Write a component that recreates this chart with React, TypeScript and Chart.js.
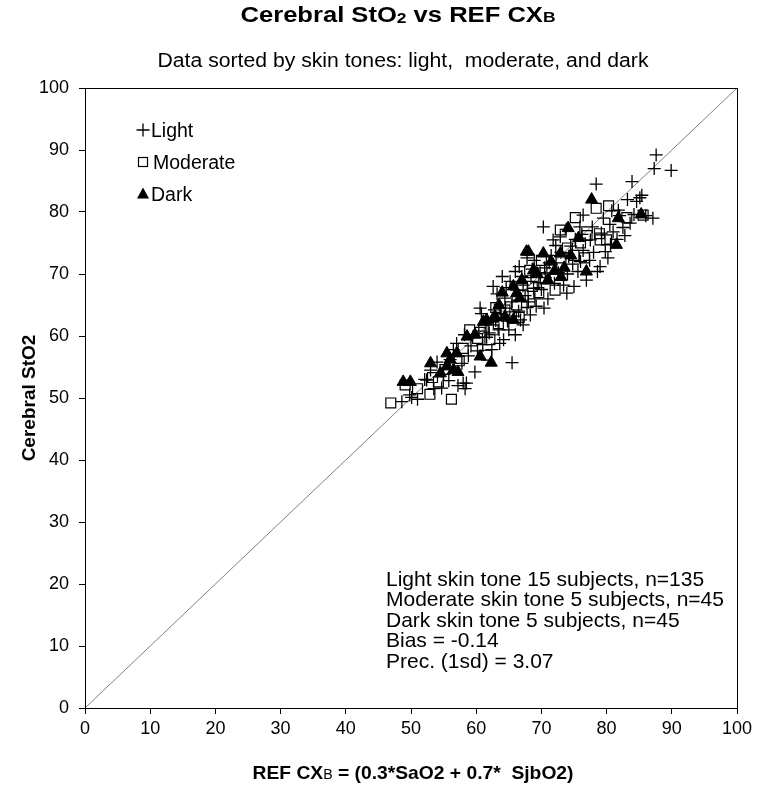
import React, { useEffect, useRef } from "react";
import { Chart, registerables } from "chart.js";

Chart.register(...registerables);

const FONT = '"Liberation Sans", Arial, sans-serif';

const lightPoints: number[][] = [
  [48.6, 49.4], [49.8, 50.5], [50.1, 50.1], [51.0, 49.8], [52.4, 52.9], [52.1, 53.0], [53.5, 51.5], [54.7, 51.6],
  [55.8, 52.8], [57.2, 52.0], [58.3, 51.5], [58.0, 52.4], [58.5, 52.4], [59.8, 54.2], [57.0, 58.8], [55.0, 53.8],
  [54.0, 55.8], [56.5, 57.8], [57.8, 55.6], [58.8, 56.8], [56.0, 56.2], [59.2, 58.4], [60.2, 57.6], [58.2, 60.2],
  [53.0, 54.5],
  [60.6, 64.5], [60.8, 63.6], [62.6, 68.0], [64.2, 59.4], [63.5, 61.0], [65.0, 61.0], [67.2, 61.8], [68.3, 63.4],
  [70.4, 64.5], [68.0, 65.5], [64.4, 66.1], [66.0, 70.4], [68.8, 67.7], [65.5, 55.7], [61.0, 58.6], [62.0, 60.5],
  [63.0, 62.5], [64.5, 64.5], [65.5, 65.5], [66.5, 64.0], [67.5, 66.5], [69.0, 66.0], [70.0, 67.5], [61.5, 61.8],
  [62.8, 64.2], [63.8, 63.6], [64.8, 62.4], [65.8, 63.2], [66.8, 62.6], [67.8, 64.6], [69.2, 64.8], [69.6, 68.6],
  [68.4, 69.4], [67.2, 68.2], [66.2, 67.4], [65.2, 68.8], [64.0, 69.6], [66.6, 71.2], [67.8, 72.6], [68.9, 72.2],
  [63.2, 66.8], [60.4, 60.8], [61.6, 59.8], [62.4, 57.8], [63.6, 58.8], [66.0, 60.2], [64.6, 67.8], [69.8, 70.2],
  [68.6, 70.8], [67.0, 69.6],
  [71.0, 66.0], [72.0, 68.5], [73.9, 66.9], [76.9, 69.0], [79.0, 71.2], [75.0, 68.0], [74.0, 70.0], [70.3, 77.6],
  [71.8, 75.5], [72.9, 76.0], [75.9, 77.6], [76.4, 79.5], [79.5, 79.0], [81.0, 76.8], [77.5, 75.5], [81.8, 80.3],
  [84.6, 81.7], [85.4, 82.7], [87.1, 79.0], [83.9, 84.9], [78.4, 84.5], [87.6, 89.2], [87.3, 87.0], [89.9, 86.7],
  [85.1, 82.3], [82.5, 77.5], [80.5, 78.0], [78.0, 73.5], [76.0, 72.0], [74.5, 74.5], [73.0, 73.5], [71.5, 73.0],
  [70.5, 71.0], [72.6, 70.2], [73.4, 68.2], [74.8, 71.6], [75.6, 70.4], [76.4, 73.8], [77.4, 72.2], [78.6, 70.4],
  [79.8, 73.6], [80.6, 74.8], [81.6, 75.6], [82.8, 76.2], [83.6, 78.2], [84.2, 79.6], [86.0, 79.4], [80.2, 72.6],
  [77.8, 77.6], [76.2, 76.4], [75.2, 75.6], [73.8, 77.2], [72.2, 74.6], [71.2, 71.8], [70.6, 69.4], [74.2, 72.8],
  [79.2, 76.6], [82.0, 79.4], [83.2, 82.0], [80.8, 80.2],
];

const moderatePoints: number[][] = [
  [46.9, 49.2], [49.1, 52.1], [52.9, 50.6], [53.3, 53.3], [56.2, 49.8], [51.0, 51.5], [54.2, 52.6], [55.2, 54.6],
  [57.4, 56.0], [58.0, 58.0], [61.6, 56.9], [59.0, 61.0], [60.2, 59.6], [62.1, 59.4], [62.6, 61.0], [60.6, 60.6],
  [63.4, 62.0], [65.4, 63.1], [64.4, 64.2], [63.0, 64.6], [66.2, 65.0], [66.6, 63.0], [67.2, 66.6], [68.6, 68.0],
  [69.6, 67.0], [70.6, 69.2], [72.1, 67.4], [71.6, 71.0], [70.0, 72.2], [68.2, 70.6], [73.0, 72.6], [74.0, 74.2],
  [75.0, 73.0], [76.0, 75.0], [76.6, 72.6], [77.0, 76.2], [72.9, 77.1], [75.2, 79.1], [78.9, 76.5], [80.0, 75.5],
  [79.0, 75.5], [78.4, 80.6], [80.3, 81.0], [83.1, 79.1], [85.6, 79.5],
];

const darkPoints: number[][] = [
  [48.8, 52.6], [49.9, 52.6], [53.0, 55.6], [54.5, 54.0], [55.5, 55.1], [56.5, 54.5], [57.2, 54.2], [55.5, 57.2],
  [57.0, 57.2], [56.0, 56.2], [58.6, 59.9], [59.8, 60.2], [60.6, 56.7], [62.3, 55.7], [61.1, 62.3], [62.6, 62.8],
  [61.6, 62.6], [62.9, 63.1], [64.4, 63.1], [65.7, 62.6], [63.5, 65.0], [64.0, 67.0], [65.7, 68.0], [66.2, 66.9],
  [66.7, 66.1], [67.0, 69.0], [67.7, 73.6], [68.8, 70.6], [69.3, 70.1], [68.0, 73.6], [70.3, 73.3], [71.0, 69.0],
  [72.0, 70.5], [73.0, 69.5], [73.5, 71.0], [71.5, 72.0], [72.9, 73.3], [74.5, 73.0], [74.1, 77.4], [75.7, 75.8],
  [76.9, 70.4], [81.5, 74.7], [85.3, 79.6], [77.7, 82.0], [81.8, 79.0],
];

const identityLine = [0, 100];
const axisMin = 0;
const axisMax = 100;
const axisStep = 10;

const legendLabels = ["Light", "Moderate", "Dark"];
const statsLines = [
  "Light skin tone 15 subjects, n=135",
  "Moderate skin tone 5 subjects, n=45",
  "Dark skin tone 5 subjects, n=45",
  "Bias = -0.14",
  "Prec. (1sd) = 3.07",
];

type Part = { text: string; font: string; dy?: number };

// draws a run of text pieces, centered on x, optionally squeezed/stretched to a target width
function drawParts(ctx: CanvasRenderingContext2D, parts: Part[], x: number, y: number, target?: number) {
  let total = 0;
  for (const p of parts) {
    ctx.font = p.font;
    total += ctx.measureText(p.text).width;
  }
  const k = target ? target / total : 1;
  ctx.save();
  ctx.translate(x - (total * k) / 2, y);
  ctx.scale(k, 1);
  ctx.textAlign = "left";
  let cx = 0;
  for (const p of parts) {
    ctx.font = p.font;
    ctx.fillText(p.text, cx, p.dy || 0);
    cx += ctx.measureText(p.text).width;
  }
  ctx.restore();
}

function drawCross(ctx: CanvasRenderingContext2D, x: number, y: number, r: number) {
  ctx.beginPath();
  ctx.moveTo(x - r, y);
  ctx.lineTo(x + r, y);
  ctx.moveTo(x, y - r);
  ctx.lineTo(x, y + r);
  ctx.stroke();
}

const textPlugin = {
  id: "customText",
  afterDraw(chart: any) {
    const ctx: CanvasRenderingContext2D = chart.ctx;
    const a = chart.chartArea;
    ctx.save();
    // frame
    ctx.strokeStyle = "#000";
    ctx.lineWidth = 1;
    ctx.strokeRect(Math.round(a.left) + 0.5, Math.round(a.top) + 0.5, Math.round(a.right - a.left), Math.round(a.bottom - a.top));

    ctx.fillStyle = "#000";
    ctx.textBaseline = "alphabetic";
    // title
    drawParts(
      ctx,
      [
        { text: "Cerebral StO", font: `bold 22px ${FONT}` },
        { text: "2", font: `bold 15px ${FONT}`, dy: 1 },
        { text: " vs REF CX", font: `bold 22px ${FONT}` },
        { text: "B", font: `bold 15px ${FONT}` },
      ],
      398,
      22,
      315
    );
    // subtitle
    drawParts(ctx, [{ text: "Data sorted by skin tones: light,  moderate, and dark", font: `20px ${FONT}` }], 403, 67, 491);

    // x axis title
    drawParts(
      ctx,
      [
        { text: "REF CX", font: `bold 19px ${FONT}` },
        { text: "B", font: `14px ${FONT}` },
        { text: " = (0.3*SaO2 + 0.7*  SjbO2)", font: `bold 19px ${FONT}` },
      ],
      413,
      779,
      321
    );

    // y axis title
    ctx.save();
    ctx.translate(30, (a.top + a.bottom) / 2);
    ctx.rotate(-Math.PI / 2);
    ctx.textBaseline = "middle";
    drawParts(ctx, [{ text: "Cerebral StO2", font: `bold 19px ${FONT}` }], 0, 0);
    ctx.restore();

    // legend
    ctx.strokeStyle = "#000";
    ctx.lineWidth = 1.3;
    const ly = [130, 162, 194];
    drawCross(ctx, 143, ly[0], 6.5);
    ctx.lineWidth = 1.2;
    ctx.strokeRect(138.5, ly[1] - 4.5, 9, 9);
    ctx.beginPath();
    ctx.moveTo(143, ly[2] - 6.5);
    ctx.lineTo(149, ly[2] + 4.5);
    ctx.lineTo(137, ly[2] + 4.5);
    ctx.closePath();
    ctx.fill();
    ctx.font = `19.5px ${FONT}`;
    ctx.textAlign = "left";
    ctx.fillText(legendLabels[0], 151, ly[0] + 7);
    ctx.fillText(legendLabels[1], 153, ly[1] + 7);
    ctx.fillText(legendLabels[2], 151, ly[2] + 7);

    // stats text
    ctx.font = `21px ${FONT}`;
    statsLines.forEach((s, i) => {
      ctx.fillText(s, 386, 585.5 + i * 20.5);
    });
    ctx.restore();
  },
};

export default function App() {
  const ref = useRef<HTMLCanvasElement | null>(null);
  useEffect(() => {
    if (!ref.current) return;
    const toXY = (arr: number[][]) => arr.map(([x, y]) => ({ x, y }));
    const chart = new Chart(ref.current, {
      type: "scatter",
      data: {
        datasets: [
          {
            type: "scatter",
            label: "Dark",
            data: toXY(darkPoints),
            pointStyle: "triangle",
            pointRadius: 7,
            pointBackgroundColor: "#000",
            pointBorderColor: "#000",
            pointBorderWidth: 1,
            order: 1,
          } as any,
          {
            type: "scatter",
            label: "Moderate",
            data: toXY(moderatePoints),
            pointStyle: "rect",
            pointRadius: 7,
            pointBackgroundColor: "rgba(255,255,255,0)",
            pointBorderColor: "#000",
            pointBorderWidth: 1.2,
            order: 2,
          },
          {
            type: "scatter",
            label: "Light",
            data: toXY(lightPoints),
            pointStyle: "cross",
            pointRadius: 6.5,
            pointBorderColor: "#000",
            pointBorderWidth: 1.3,
            order: 3,
          },
          {
            type: "line",
            label: "identity",
            data: identityLine.map((v) => ({ x: v, y: v })),
            borderColor: "#808080",
            borderWidth: 1,
            pointRadius: 0,
            fill: false,
            order: 10,
          },
        ],
      },
      options: {
        responsive: false,
        animation: false,
        devicePixelRatio: 1,
        layout: { padding: { top: 88, right: 37, bottom: 0, left: 0 } },
        plugins: { legend: { display: false }, tooltip: { enabled: false }, title: { display: false } },
        scales: {
          x: {
            type: "linear",
            min: axisMin,
            max: axisMax,
            ticks: { stepSize: axisStep, color: "#000", font: { family: FONT, size: 18 }, padding: 4, maxRotation: 0 },
            grid: { display: true, drawOnChartArea: false, drawTicks: true, tickLength: 6, color: "#000" },
            border: { display: true, color: "#000", width: 1 },
            afterFit: (s: any) => {
              s.height = 80;
            },
          },
          y: {
            type: "linear",
            min: axisMin,
            max: axisMax,
            ticks: { stepSize: axisStep, color: "#000", font: { family: FONT, size: 18 }, padding: 10 },
            grid: { display: true, drawOnChartArea: false, drawTicks: true, tickLength: 6, color: "#000" },
            border: { display: true, color: "#000", width: 1 },
            afterFit: (s: any) => {
              s.width = 85;
            },
          },
        },
      },
      plugins: [textPlugin],
    });
    return () => chart.destroy();
  }, []);
  return (
    <div style={{ position: "fixed", left: 0, top: 0, width: 774, height: 788, background: "#fff" }}>
      <canvas ref={ref} width={774} height={788} style={{ width: 774, height: 788, display: "block" }} />
    </div>
  );
}
